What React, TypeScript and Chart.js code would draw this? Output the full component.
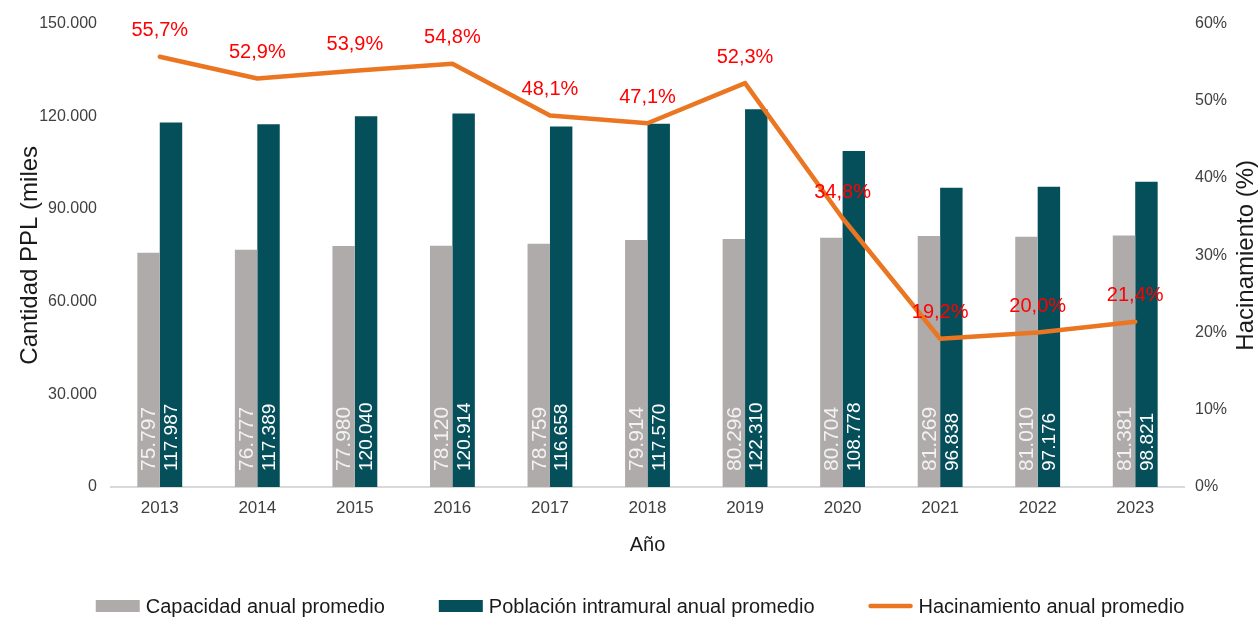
import React, { useEffect, useRef } from "react";
import { Chart, registerables } from "chart.js";

Chart.register(...registerables);

const years = ["2013", "2014", "2015", "2016", "2017", "2018", "2019", "2020", "2021", "2022", "2023"];
const capacidad = [75797, 76777, 77980, 78120, 78759, 79914, 80296, 80704, 81269, 81010, 81381];
const poblacion = [117987, 117389, 120040, 120914, 116658, 117570, 122310, 108778, 96838, 97176, 98821];
const hacinamiento = [55.7, 52.9, 53.9, 54.8, 48.1, 47.1, 52.3, 34.8, 19.2, 20.0, 21.4];

const leftTicksMax = 150000;
const leftTicksStep = 30000;
const rightTicksMax = 60;
const rightTicksStep = 10;

const FONT = "'Liberation Sans', Arial, Helvetica, sans-serif";
const GRAY = "#AFABAB";
const TEAL = "#054F5B";
const ORANGE = "#EB7621";

const fmtThousands = (v: number) => {
  const s = Math.round(v).toString();
  return s.replace(/\B(?=(\d{3})+(?!\d))/g, ".");
};
const fmtPct = (v: number) => v.toFixed(1).replace(".", ",") + "%";

const legendItems = [
  { text: "Capacidad anual promedio", kind: "box", color: GRAY },
  { text: "Población intramural anual promedio", kind: "box", color: TEAL },
  { text: "Hacinamiento anual promedio", kind: "line", color: ORANGE },
];

const labelPlugin = {
  id: "customLabels",
  afterDatasetsDraw(chart: any) {
    const ctx = chart.ctx as CanvasRenderingContext2D;
    const barSpecs = [
      { idx: 1, data: capacidad, font: `21px ${FONT}`, color: "#F2F2F2" },
      { idx: 2, data: poblacion, font: `19px ${FONT}`, color: "#FFFFFF" },
    ];
    barSpecs.forEach((spec) => {
      const meta = chart.getDatasetMeta(spec.idx);
      meta.data.forEach((el: any, i: number) => {
        const p = el.getProps(["x", "base"], true);
        ctx.save();
        ctx.translate(p.x, p.base - 16);
        ctx.rotate(-Math.PI / 2);
        ctx.font = spec.font;
        ctx.fillStyle = spec.color;
        ctx.textAlign = "left";
        ctx.textBaseline = "middle";
        ctx.fillText(fmtThousands(spec.data[i]), 0, 1);
        ctx.restore();
      });
    });
    const lmeta = chart.getDatasetMeta(0);
    lmeta.data.forEach((el: any, i: number) => {
      const p = el.getProps(["x", "y"], true);
      ctx.save();
      ctx.font = `20px ${FONT}`;
      ctx.fillStyle = "#FF0000";
      ctx.textAlign = "center";
      ctx.textBaseline = "middle";
      ctx.fillText(fmtPct(hacinamiento[i]), p.x, p.y - 26);
      ctx.restore();
    });
  },
  afterDraw(chart: any) {
    const ctx = chart.ctx as CanvasRenderingContext2D;
    const area = chart.chartArea;
    ctx.save();
    ctx.translate(area.right + 62, (area.top + area.bottom) / 2);
    ctx.rotate(-Math.PI / 2);
    ctx.font = `24px ${FONT}`;
    ctx.fillStyle = "#1A1A1A";
    ctx.textAlign = "center";
    ctx.textBaseline = "middle";
    ctx.fillText("Hacinamiento (%)", 0, 0);
    ctx.restore();

    ctx.save();
    ctx.font = `20px ${FONT}`;
    const boxW = 44;
    const gapBoxText = 6;
    const gapItems = 54;
    const widths = legendItems.map((it) => boxW + gapBoxText + ctx.measureText(it.text).width);
    const total = widths.reduce((a, b) => a + b, 0) + gapItems * (legendItems.length - 1);
    let x = chart.width / 2 + 11 - total / 2;
    const cy = chart.height - 12;
    legendItems.forEach((it, i) => {
      if (it.kind === "box") {
        ctx.fillStyle = it.color;
        ctx.fillRect(x, cy - 6, boxW, 12);
      } else {
        ctx.strokeStyle = it.color;
        ctx.lineWidth = 4.5;
        ctx.lineCap = "round";
        ctx.beginPath();
        ctx.moveTo(x + 2, cy);
        ctx.lineTo(x + boxW - 2, cy);
        ctx.stroke();
      }
      ctx.fillStyle = "#1A1A1A";
      ctx.textAlign = "left";
      ctx.textBaseline = "middle";
      ctx.fillText(it.text, x + boxW + gapBoxText, cy + 1);
      x += widths[i] + gapItems;
    });
    ctx.restore();
  },
};

export default function App() {
  const ref = useRef<HTMLCanvasElement | null>(null);

  useEffect(() => {
    if (!ref.current) return;
    Chart.defaults.font.family = FONT;
    const chart = new Chart(ref.current, {
      type: "bar",
      data: {
        labels: years,
        datasets: [
          {
            type: "line",
            label: "Hacinamiento anual promedio",
            data: hacinamiento,
            yAxisID: "y1",
            borderColor: ORANGE,
            backgroundColor: ORANGE,
            borderWidth: 4.5,
            pointRadius: 0,
            tension: 0,
            borderJoinStyle: "round",
            borderCapStyle: "round",
          } as any,
          {
            type: "bar",
            label: "Capacidad anual promedio",
            data: capacidad,
            yAxisID: "y",
            backgroundColor: GRAY,
            categoryPercentage: 0.46,
            barPercentage: 1,
          },
          {
            type: "bar",
            label: "Población intramural anual promedio",
            data: poblacion,
            yAxisID: "y",
            backgroundColor: TEAL,
            categoryPercentage: 0.46,
            barPercentage: 1,
          },
        ],
      },
      options: {
        animation: false,
        responsive: false,
        maintainAspectRatio: false,
        layout: { padding: { top: 23, bottom: 58, left: 0, right: 0 } },
        plugins: {
          legend: { display: false },
          tooltip: { enabled: false },
        },
        scales: {
          x: {
            grid: { display: false, drawTicks: false },
            border: { display: true, color: "#D9D9D9", width: 2 },
            ticks: { font: { size: 17 }, color: "#404040", padding: 11 },
            title: {
              display: true,
              text: "Año",
              font: { size: 20 },
              color: "#1A1A1A",
              padding: { top: 0, bottom: 3 },
            },
            afterFit: (s: any) => {
              s.height = 73;
            },
          },
          y: {
            position: "left",
            min: 0,
            max: leftTicksMax,
            grid: { display: false, drawTicks: false },
            border: { display: false },
            ticks: {
              stepSize: leftTicksStep,
              font: { size: 16 },
              color: "#404040",
              padding: 14,
              callback: (v: any) => fmtThousands(Number(v)),
            },
            title: {
              display: true,
              text: "Cantidad PPL (miles",
              font: { size: 24 },
              color: "#1A1A1A",
              padding: { top: 16, bottom: 0 },
            },
            afterFit: (s: any) => {
              s.width = 111;
            },
          },
          y1: {
            position: "right",
            min: 0,
            max: rightTicksMax,
            grid: { display: false, drawTicks: false },
            border: { display: false },
            ticks: {
              stepSize: rightTicksStep,
              font: { size: 16 },
              color: "#404040",
              padding: 11,
              callback: (v: any) => `${v}%`,
            },
            afterFit: (s: any) => {
              s.width = 74;
            },
          },
        },
      },
      plugins: [labelPlugin],
    });
    return () => chart.destroy();
  }, []);

  return (
    <div style={{ position: "absolute", left: 0, top: 0, width: 1258, height: 618, background: "#fff" }}>
      <canvas ref={ref} width={1258} height={618} style={{ display: "block" }} />
    </div>
  );
}
